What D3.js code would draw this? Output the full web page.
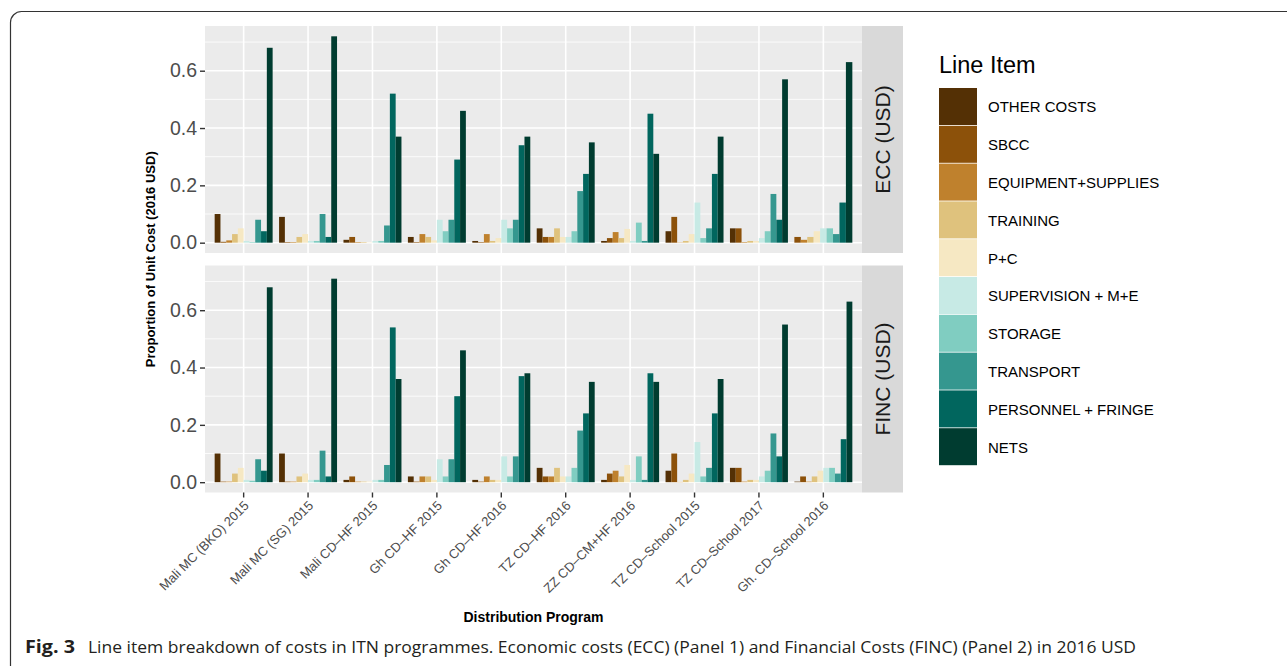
<!DOCTYPE html>
<html>
<head>
<meta charset="utf-8">
<script src="https://cdn.jsdelivr.net/npm/d3@7"></script>
<style>
  body { margin: 0; background: #fff; }
  svg { display: block; }
</style>
</head>
<body>
<svg id="chart" width="1287" height="666"></svg>
<script>
// distribution programmes (x axis)
var programs = ['Mali MC (BKO) 2015', 'Mali MC (SG) 2015', 'Mali CD\u2013HF 2015', 'Gh CD\u2013HF 2015',
  'Gh CD\u2013HF 2016', 'TZ CD\u2013HF 2016', 'ZZ CD\u2013CM+HF 2016', 'TZ CD\u2013School 2015',
  'TZ CD\u2013School 2017', 'Gh. CD\u2013School  2016'];

var lineItems = ['OTHER COSTS', 'SBCC', 'EQUIPMENT+SUPPLIES', 'TRAINING', 'P+C',
  'SUPERVISION + M+E', 'STORAGE', 'TRANSPORT', 'PERSONNEL + FRINGE', 'NETS'];

var itemColors = ['#543005', '#8c510a', '#bf812d', '#dfc27d', '#f6e8c3',
  '#c7eae5', '#80cdc1', '#35978f', '#01665e', '#003c30'];

var panels = ['ECC (USD)', 'FINC (USD)'];

// one row per programme, one value per line item (null = no bar)
var eccValues = [
  [0.10, 0.003, 0.008, 0.03, 0.05, 0.006, 0.002, 0.08, 0.04, 0.68],
  [0.09, 0.002, 0.002, 0.02, 0.03, 0.006, 0.006, 0.10, 0.02, 0.72],
  [0.01, 0.02, 0.002, 0.002, 0.001, 0.006, 0.006, 0.06, 0.52, 0.37],
  [0.02, 0.002, 0.03, 0.02, 0.008, 0.08, 0.04, 0.08, 0.29, 0.46],
  [0.006, 0.002, 0.03, 0.006, 0.016, 0.08, 0.05, 0.08, 0.34, 0.37],
  [0.05, 0.02, 0.02, 0.05, 0.02, 0.02, 0.04, 0.18, 0.24, 0.35],
  [0.006, 0.016, 0.037, 0.016, 0.048, 0.006, 0.07, 0.006, 0.45, 0.31],
  [0.04, 0.09, 0.001, 0.006, 0.03, 0.14, 0.016, 0.05, 0.24, 0.37],
  [0.05, 0.05, 0.002, 0.006, 0.006, 0.016, 0.04, 0.17, 0.08, 0.57],
  [null, 0.02, 0.01, 0.02, 0.04, 0.05, 0.05, 0.03, 0.14, 0.63]
];

var fincValues = [
  [0.10, 0.002, 0.002, 0.03, 0.05, 0.008, 0.005, 0.08, 0.04, 0.68],
  [0.10, 0.002, 0.002, 0.02, 0.03, 0.008, 0.008, 0.11, 0.02, 0.71],
  [0.008, 0.02, 0.002, 0.002, 0.002, 0.008, 0.008, 0.06, 0.54, 0.36],
  [0.02, 0.002, 0.02, 0.02, 0.008, 0.08, 0.02, 0.08, 0.30, 0.46],
  [0.008, 0.002, 0.02, 0.008, 0.008, 0.09, 0.02, 0.09, 0.37, 0.38],
  [0.05, 0.02, 0.02, 0.05, 0.02, 0.02, 0.05, 0.18, 0.24, 0.35],
  [0.008, 0.03, 0.04, 0.02, 0.06, 0.008, 0.09, 0.008, 0.38, 0.35],
  [0.04, 0.10, 0.001, 0.008, 0.03, 0.14, 0.02, 0.05, 0.24, 0.36],
  [0.05, 0.05, 0.002, 0.008, 0.008, 0.02, 0.04, 0.17, 0.09, 0.55],
  [0.002, 0.02, 0.002, 0.02, 0.04, 0.05, 0.05, 0.03, 0.15, 0.63]
];

var yTicks = [0, 0.2, 0.4, 0.6];
var yMinor = [0.1, 0.3, 0.5, 0.7];

var font = 'Liberation Sans, Arial, sans-serif';
var svg = d3.select('#chart');

// figure frame (bottom edge runs off the page)
svg.append('rect')
  .attr('x', 10.5).attr('y', 11.5)
  .attr('width', 1300).attr('height', 680)
  .attr('rx', 11)
  .style('fill', 'none').style('stroke', '#333').style('stroke-width', 1.2);

var left = 205, right = 862, panelH = 227;
var panelTops = [26, 265.5];

var x = d3.scaleBand().domain(programs).range([left, right])
  .paddingInner(0).paddingOuter(0.1);
var step = x.step();

var maxVal = d3.max(eccValues.concat(fincValues), function (r) { return d3.max(r); });
var yDomain = [-0.05 * maxVal, maxVal * 1.05];

var fmt = d3.format('.1f');

panels.forEach(function (name, p) {
  var top = panelTops[p];
  var values = p == 0 ? eccValues : fincValues;
  var y = d3.scaleLinear().domain(yDomain).range([top + panelH, top]);
  var g = svg.append('g');

  g.append('rect').attr('x', left).attr('y', top)
    .attr('width', right - left).attr('height', panelH)
    .style('fill', '#ebebeb');

  yMinor.forEach(function (v) {
    g.append('line').attr('x1', left).attr('x2', right)
      .attr('y1', y(v)).attr('y2', y(v))
      .style('stroke', '#fff').style('stroke-width', 0.8);
  });
  yTicks.forEach(function (v) {
    g.append('line').attr('x1', left).attr('x2', right)
      .attr('y1', y(v)).attr('y2', y(v))
      .style('stroke', '#fff').style('stroke-width', 1.6);
  });
  programs.forEach(function (pr) {
    var cx = x(pr) + step / 2;
    g.append('line').attr('x1', cx).attr('x2', cx)
      .attr('y1', top).attr('y2', top + panelH)
      .style('stroke', '#fff').style('stroke-width', 1.6);
  });

  // dodged bars, width shared among the items present in each group
  programs.forEach(function (pr, i) {
    var row = values[i];
    var present = lineItems.filter(function (d, k) { return row[k] != null; });
    var cx = x(pr) + step / 2;
    var inner = d3.scaleBand().domain(present)
      .range([cx - 0.45 * step, cx + 0.45 * step]);
    g.selectAll(null)
      .data(lineItems.map(function (d, k) { return {item: d, k: k, v: row[k]}; })
        .filter(function (d) { return d.v != null; }))
      .enter().append('rect')
      .attr('x', function (d) { return inner(d.item); })
      .attr('width', inner.bandwidth())
      .attr('y', function (d) { return y(d.v); })
      .attr('height', function (d) { return y(0) - y(d.v); })
      .style('fill', function (d) { return itemColors[d.k]; });
  });

  // y axis
  var yAxis = d3.axisLeft(y).tickValues(yTicks).tickFormat(fmt).tickSize(5).tickPadding(3);
  var ya = svg.append('g').attr('transform', 'translate(' + left + ',0)').call(yAxis);
  ya.select('.domain').remove();
  ya.selectAll('line').style('stroke', '#333').style('stroke-width', 1.4);
  ya.selectAll('text').style('font-family', font).style('font-size', '19.5px').style('fill', '#4d4d4d');

  // strip
  svg.append('rect').attr('x', right).attr('y', top)
    .attr('width', 41).attr('height', panelH)
    .style('fill', '#d9d9d9');
  svg.append('text')
    .attr('transform', 'translate(' + (right + 28) + ',' + (top + panelH / 2) + ') rotate(-90)')
    .attr('text-anchor', 'middle')
    .style('font-family', font).style('font-size', '21px').style('fill', '#1a1a1a')
    .text(name);
});

// x axis (bottom panel only)
var xAxis = d3.axisBottom(x).tickSize(5).tickPadding(3);
var xa = svg.append('g').attr('transform', 'translate(0,' + (panelTops[1] + panelH) + ')').call(xAxis);
xa.select('.domain').remove();
xa.selectAll('line').style('stroke', '#333').style('stroke-width', 1.4);
xa.selectAll('text')
  .attr('text-anchor', 'end')
  .attr('dy', null).attr('y', 0)
  .attr('transform', 'translate(6,14) rotate(-45)')
  .style('font-family', font).style('font-size', '13px').style('fill', '#4d4d4d');

// axis titles
svg.append('text')
  .attr('x', (left + right) / 2).attr('y', 622)
  .attr('text-anchor', 'middle')
  .style('font-family', font).style('font-size', '14px').style('font-weight', 'bold')
  .text('Distribution Program');

svg.append('text')
  .attr('transform', 'translate(155,' + (panelTops[0] + panelTops[1] + panelH) / 2 + ') rotate(-90)')
  .attr('text-anchor', 'middle')
  .style('font-family', font).style('font-size', '13px').style('font-weight', 'bold')
  .text('Proportion of Unit Cost (2016 USD)');

// legend
var legend = svg.append('g');
legend.append('text').attr('x', 939).attr('y', 73)
  .style('font-family', font).style('font-size', '23.5px')
  .text('Line Item');
var keyH = 37.8;
lineItems.forEach(function (d, k) {
  var ky = 88 + k * keyH;
  legend.append('rect').attr('x', 939).attr('y', ky)
    .attr('width', 38).attr('height', keyH - 0.8)
    .style('fill', itemColors[k]);
  legend.append('text').attr('x', 988).attr('y', ky + keyH / 2)
    .attr('dy', '0.36em')
    .style('font-family', font).style('font-size', '15px').style('fill', '#000')
    .text(d);
});

// caption
var cap = svg.append('text').attr('x', 25).attr('y', 653)
  .style('font-family', 'Open Sans, sans-serif').style('font-size', '17px').style('fill', '#231f20');
cap.append('tspan').style('font-weight', 'bold').attr('textLength', 50)
  .attr('lengthAdjust', 'spacingAndGlyphs').text('Fig. 3');
cap.append('tspan').attr('x', 88).attr('textLength', 1048)
  .attr('lengthAdjust', 'spacingAndGlyphs')
  .text('Line item breakdown of costs in ITN programmes. Economic costs (ECC) (Panel 1) and Financial Costs (FINC) (Panel 2) in 2016 USD');
</script>
</body>
</html>
